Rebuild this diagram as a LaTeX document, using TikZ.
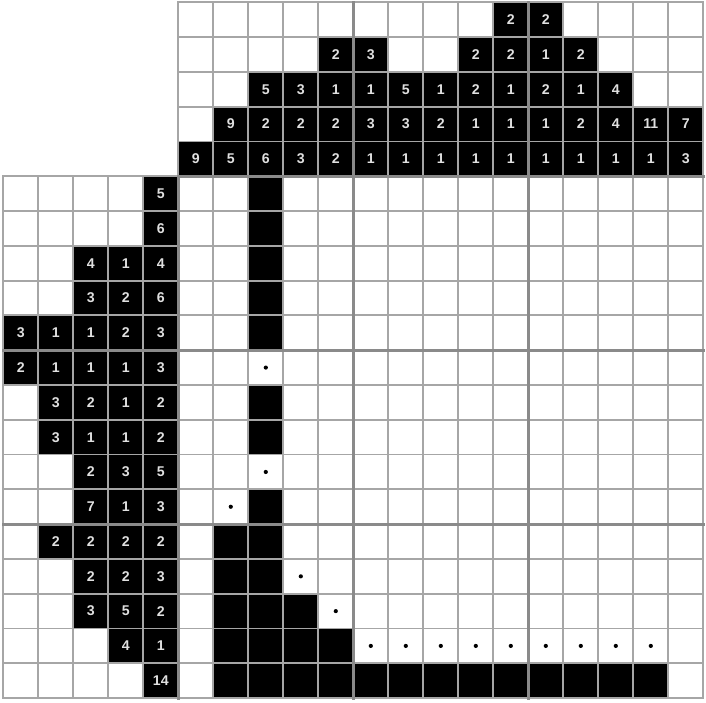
\documentclass[tikz,border=0pt]{standalone}
\usepackage{fontspec}
\setmainfont{Liberation Sans}
\tikzset{
  clue/.style={fill=black, text=white!88!black, inner sep=0pt,
    minimum width=1cm, minimum height=0.994cm,
    font=\bfseries\fontsize{11.5}{13}\selectfont},
  gridline/.style={draw=gray!70, line width=1.5pt, line cap=rect},
  boldline/.style={draw=gray!92, line width=2.5pt, line cap=rect},
}
\begin{document}
\begin{tikzpicture}[x=1cm,y=0.994cm]
      \useasboundingbox (-0.094,-0.135) rectangle (20.077,20.066);
      \fill[white] (-0.094,-0.135) rectangle (20.077,20.066);
      % column clues, row by row from the top
      \foreach \k/\list in {
          0/{9/2,10/2},
          1/{4/2,5/3,8/2,9/2,10/1,11/2},
          2/{2/5,3/3,4/1,5/1,6/5,7/1,8/2,9/1,10/2,11/1,12/4},
          3/{1/9,2/2,3/2,4/2,5/3,6/3,7/2,8/1,9/1,10/1,11/2,12/4,13/11,14/7},
          4/{0/9,1/5,2/6,3/3,4/2,5/1,6/1,7/1,8/1,9/1,10/1,11/1,12/1,13/1,14/3}}
        \foreach \j/\v in \list
          \node[clue] (top-\k-\j) at (5.5+\j,19.5-\k) {\v};
      % row clues
      \foreach \i/\list in {
          0/{4/5}, 1/{4/6}, 2/{2/4,3/1,4/4}, 3/{2/3,3/2,4/6},
          4/{0/3,1/1,2/1,3/2,4/3}, 5/{0/2,1/1,2/1,3/1,4/3},
          6/{1/3,2/2,3/1,4/2}, 7/{1/3,2/1,3/1,4/2}, 8/{2/2,3/3,4/5},
          9/{2/7,3/1,4/3}, 10/{1/2,2/2,3/2,4/2}, 11/{2/2,3/2,4/3},
          12/{2/3,3/5,4/2}, 13/{3/4,4/1}, 14/{4/14}}
        \foreach \c/\v in \list
          \node[clue] (left-\i-\c) at (\c+0.5,14.5-\i) {\v};
      % filled cells
      \foreach \j/\i in {2/0,2/1,2/2,2/3,2/4,2/6,2/7,2/9,
          1/10,2/10,1/11,2/11,1/12,2/12,3/12,1/13,2/13,3/13,4/13,
          1/14,2/14,3/14,4/14,5/14,6/14,7/14,8/14,9/14,10/14,11/14,12/14,13/14}
        \fill (5+\j,14-\i) rectangle +(1,1);
      % crossed-out cells
      \foreach \j/\i in {2/5,2/8,1/9,3/11,4/12,
          5/13,6/13,7/13,8/13,9/13,10/13,11/13,12/13,13/13}
        \fill (5.5+\j,14.5-\i) circle (0.06);
      % grid
      \foreach \x in {0,...,4} \draw[gridline] (\x,0) -- (\x,15);
      \foreach \x in {5,...,20} \draw[gridline] (\x,0) -- (\x,20);
      \foreach \y in {0,...,15} \draw[gridline] (0,\y) -- (20,\y);
      \foreach \y in {16,...,20} \draw[gridline] (5,\y) -- (20,\y);
      \draw[boldline] (5,0) -- (5,15);
      \draw[boldline] (5,15) -- (20,15);
      \foreach \x in {10,15} \draw[boldline] (\x,0) -- (\x,20);
      \foreach \y in {5,10} \draw[boldline] (0,\y) -- (20,\y);
    \end{tikzpicture}
\end{document}
